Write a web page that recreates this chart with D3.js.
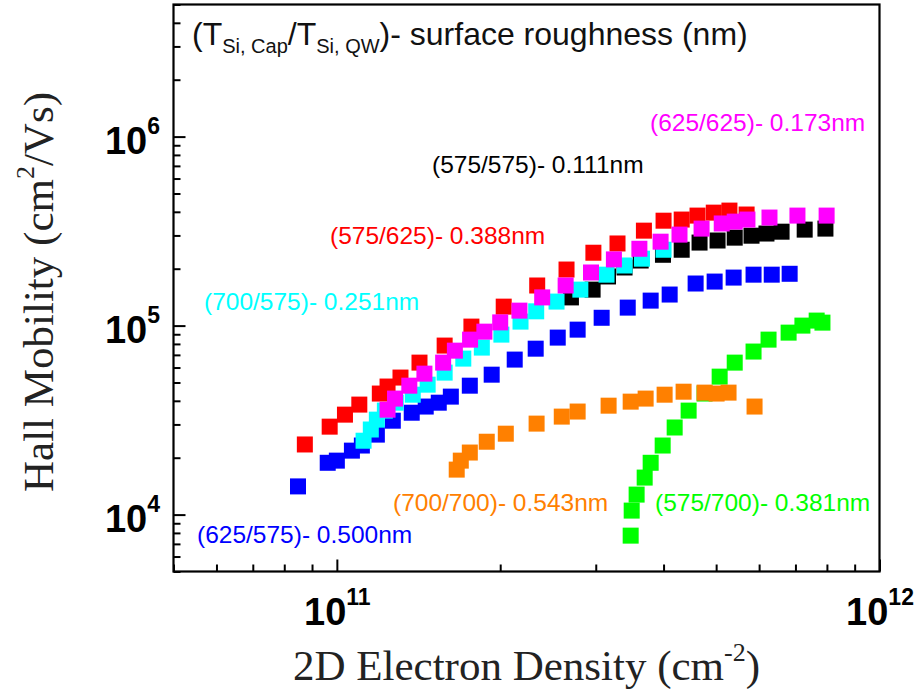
<!DOCTYPE html>
<html>
<head>
<meta charset="utf-8">
<script src="https://cdn.jsdelivr.net/npm/d3@7"></script>
<style>
  body { margin: 0; background: #fff; }
  svg { display: block; }
</style>
</head>
<body>
<svg id="chart" width="922" height="694"></svg>
<script>
// ---- data: 2D electron density (cm^-2) vs Hall mobility (cm^2/Vs) ----
const xTickValues = [1e11, 1e12];
const yTickValues = [1e4, 1e5, 1e6];

const densRed = [8.73e10, 9.7e10, 1.035e11, 1.10e11, 1.20e11, 1.24e11, 1.31e11, 1.42e11, 1.58e11, 1.77e11, 2.03e11, 2.34e11, 2.65e11, 2.97e11, 3.29e11, 3.68e11, 4.0e11, 4.32e11, 4.62e11, 4.95e11, 5.29e11, 5.69e11];
const muRed   = [2.35e4, 2.92e4, 3.38e4, 3.82e4, 4.37e4, 4.76e4, 5.31e4, 6.37e4, 7.84e4, 9.88e4, 1.26e5, 1.63e5, 1.98e5, 2.43e5, 2.72e5, 3.18e5, 3.59e5, 3.64e5, 3.82e5, 3.96e5, 4.06e5, 3.87e5];

const densMagenta = [1.24e11, 1.28e11, 1.36e11, 1.45e11, 1.57e11, 1.65e11, 1.76e11, 1.87e11, 2.00e11, 2.17e11, 2.39e11, 2.64e11, 2.94e11, 3.24e11, 3.61e11, 3.95e11, 4.28e11, 4.70e11, 5.12e11, 5.41e11, 5.71e11, 6.27e11, 7.06e11, 7.99e11];
const muMagenta   = [3.59e4, 4.11e4, 4.81e4, 5.57e4, 6.37e4, 7.37e4, 8.43e4, 9.29e4, 1.04e5, 1.20e5, 1.41e5, 1.63e5, 1.91e5, 2.24e5, 2.55e5, 2.78e5, 3.03e5, 3.26e5, 3.47e5, 3.55e5, 3.64e5, 3.73e5, 3.82e5, 3.82e5];

const densBlack = [2.70e11, 2.96e11, 3.16e11, 3.39e11, 3.63e11, 3.99e11, 4.32e11, 4.66e11, 5.03e11, 5.41e11, 5.81e11, 6.19e11, 6.60e11, 7.28e11, 7.95e11];
const muBlack   = [1.41e5, 1.55e5, 1.82e5, 2.03e5, 2.21e5, 2.37e5, 2.52e5, 2.75e5, 2.82e5, 2.92e5, 2.99e5, 3.07e5, 3.14e5, 3.22e5, 3.26e5];

const densCyan = [1.12e11, 1.155e11, 1.185e11, 1.226e11, 1.284e11, 1.38e11, 1.47e11, 1.58e11, 1.71e11, 1.85e11, 2.01e11, 2.18e11, 2.33e11, 2.54e11, 2.81e11, 3.14e11, 3.39e11, 3.65e11, 4.0e11];
const muCyan   = [2.46e4, 2.82e4, 3.18e4, 3.55e4, 3.91e4, 4.31e4, 4.87e4, 5.64e4, 6.69e4, 7.65e4, 8.96e4, 1.05e5, 1.19e5, 1.34e5, 1.55e5, 1.86e5, 2.08e5, 2.26e5, 2.52e5];

const densBlue = [8.48e10, 9.62e10, 1.0e11, 1.066e11, 1.112e11, 1.185e11, 1.268e11, 1.374e11, 1.458e11, 1.541e11, 1.622e11, 1.758e11, 1.929e11, 2.127e11, 2.325e11, 2.553e11, 2.778e11, 3.076e11, 3.436e11, 3.787e11, 4.105e11, 4.583e11, 4.968e11, 5.385e11, 5.86e11, 6.33e11, 6.83e11];
const muBlue   = [1.41e4, 1.88e4, 1.93e4, 2.18e4, 2.32e4, 2.65e4, 3.14e4, 3.46e4, 3.73e4, 3.91e4, 4.21e4, 4.81e4, 5.50e4, 6.61e4, 7.55e4, 8.64e4, 9.52e4, 1.10e5, 1.245e5, 1.356e5, 1.46e5, 1.67e5, 1.71e5, 1.795e5, 1.86e5, 1.86e5, 1.88e5];

const densOrange = [1.663e11, 1.692e11, 1.758e11, 1.889e11, 2.048e11, 2.334e11, 2.597e11, 2.778e11, 3.168e11, 3.479e11, 3.707e11, 4.018e11, 4.355e11, 4.76e11, 5.01e11, 5.27e11, 5.885e11];
const muOrange   = [1.73e4, 1.93e4, 2.13e4, 2.43e4, 2.68e4, 3.03e4, 3.30e4, 3.51e4, 3.77e4, 3.96e4, 4.11e4, 4.31e4, 4.47e4, 4.42e4, 4.37e4, 4.42e4, 3.73e4];

const densGreen = [3.479e11, 3.494e11, 3.568e11, 3.692e11, 3.787e11, 3.985e11, 4.193e11, 4.449e11, 4.76e11, 5.075e11, 5.41e11, 5.86e11, 6.245e11, 6.80e11, 7.21e11, 7.66e11, 7.85e11];
const muGreen   = [7.74e3, 1.05e4, 1.276e4, 1.57e4, 1.88e4, 2.32e4, 2.89e4, 3.55e4, 4.37e4, 5.37e4, 6.37e4, 7.29e4, 8.43e4, 9.18e4, 1.0e5, 1.063e5, 1.037e5];

// sample labels: (T_Si,Cap / T_Si,QW) - surface roughness
const labelBlack   = "(575/575)- 0.111nm";
const labelBlue    = "(625/575)- 0.500nm";
const labelGreen   = "(575/700)- 0.381nm";
const labelOrange  = "(700/700)- 0.543nm";
const labelRed     = "(575/625)- 0.388nm";
const labelCyan    = "(700/575)- 0.251nm";
const labelMagenta = "(625/625)- 0.173nm";

// drawing order: later series sit on top
const series = [
  { x: densBlack,   y: muBlack,   color: "#000000", label: labelBlack,   lx: 432, ly: 173 },
  { x: densBlue,    y: muBlue,    color: "#0000ff", label: labelBlue,    lx: 197, ly: 543 },
  { x: densGreen,   y: muGreen,   color: "#00ff00", label: labelGreen,   lx: 655, ly: 511 },
  { x: densOrange,  y: muOrange,  color: "#ff8000", label: labelOrange,  lx: 393, ly: 511 },
  { x: densRed,     y: muRed,     color: "#ff0000", label: labelRed,     lx: 330, ly: 244 },
  { x: densCyan,    y: muCyan,    color: "#00ffff", label: labelCyan,    lx: 204, ly: 310 },
  { x: densMagenta, y: muMagenta, color: "#ff00ff", label: labelMagenta, lx: 650, ly: 131 }
];

// ---- layout ----
const svg = d3.select("#chart");
const plotLeft = 173.5, plotRight = 879.5, plotTop = 4.5, plotBottom = 571.5;
const sansFont = "'Liberation Sans', Arial, sans-serif";
const serifFont = "'Liberation Serif', 'Times New Roman', serif";
const markerSize = 16;

const x = d3.scaleLog().domain([5e10, 1e12]).range([plotLeft, plotRight]);
const y = d3.scaleLog().domain([5e3, 5e6]).range([plotBottom, plotTop]);

// markers
const plot = svg.append("g");
series.forEach(s => {
  const pts = s.x.map((v, i) => [v, s.y[i]]);
  plot.append("g").selectAll("rect").data(pts).join("rect")
    .attr("x", d => x(d[0]) - markerSize / 2)
    .attr("y", d => y(d[1]) - markerSize / 2)
    .attr("width", markerSize)
    .attr("height", markerSize)
    .attr("fill", s.color);
});

// axes (ticks point inward)
const minorX = x.ticks().filter(v => !xTickValues.includes(v));
const minorY = y.ticks().filter(v => !yTickValues.includes(v));

function styleAxis(g) {
  g.select(".domain").remove();
  g.selectAll(".tick line").attr("stroke", "#000").attr("stroke-width", 2);
}

svg.append("g").attr("transform", `translate(0,${plotBottom})`)
  .call(d3.axisBottom(x).tickValues(minorX).tickSize(-7).tickFormat(""))
  .call(styleAxis);
svg.append("g").attr("transform", `translate(${plotLeft},0)`)
  .call(d3.axisLeft(y).tickValues(minorY).tickSize(-7).tickFormat(""))
  .call(styleAxis);

const xMajor = svg.append("g").attr("transform", `translate(0,${plotBottom})`)
  .call(d3.axisBottom(x).tickValues(xTickValues).tickSize(-12))
  .call(styleAxis);
xMajor.selectAll(".tick text")
  .attr("y", 53.5).attr("dy", null)
  .attr("font-family", sansFont).attr("font-size", 38).attr("font-weight", "bold")
  .attr("fill", "#000").attr("text-anchor", "middle")
  .each(function (d) {
    const t = d3.select(this).text("");
    t.append("tspan").text("10");
    t.append("tspan").attr("font-size", 23).attr("dy", -20).text(Math.round(Math.log10(d)));
  });

const yMajor = svg.append("g").attr("transform", `translate(${plotLeft},0)`)
  .call(d3.axisLeft(y).tickValues(yTickValues).tickSize(-12).tickPadding(13.5))
  .call(styleAxis);
yMajor.selectAll(".tick text")
  .attr("dy", 16.5)
  .attr("font-family", sansFont).attr("font-size", 38).attr("font-weight", "bold")
  .attr("fill", "#000").attr("text-anchor", "end")
  .each(function (d) {
    const t = d3.select(this).text("");
    t.append("tspan").text("10");
    t.append("tspan").attr("font-size", 23).attr("dy", -20).text(Math.round(Math.log10(d)));
  });

// frame
svg.append("rect")
  .attr("x", plotLeft).attr("y", plotTop)
  .attr("width", plotRight - plotLeft).attr("height", plotBottom - plotTop)
  .attr("fill", "none").attr("stroke", "#000").attr("stroke-width", 2.2);

// axis titles
const xTitle = svg.append("text")
  .attr("x", (plotLeft + plotRight) / 2).attr("y", 680)
  .attr("text-anchor", "middle")
  .attr("font-family", serifFont).attr("font-size", 43).attr("fill", "#222");
xTitle.append("tspan").text("2D Electron Density (cm");
xTitle.append("tspan").attr("font-size", 26).attr("dy", -19).text("-2");
xTitle.append("tspan").attr("dy", 19).text(")");

const yTitle = svg.append("text")
  .attr("transform", `translate(53,${(plotTop + plotBottom) / 2 + 4}) rotate(-90)`)
  .attr("text-anchor", "middle")
  .attr("font-family", serifFont).attr("font-size", 43).attr("fill", "#222");
yTitle.append("tspan").text("Hall Mobility (cm");
yTitle.append("tspan").attr("font-size", 26).attr("dy", -19).text("2");
yTitle.append("tspan").attr("dy", 19).text("/Vs)");

// header note
const note = svg.append("text")
  .attr("x", 192).attr("y", 45)
  .attr("font-family", sansFont).attr("font-size", 32).attr("fill", "#111");
note.append("tspan").text("(T");
note.append("tspan").attr("font-size", 20).attr("dy", 8).text("Si, Cap");
note.append("tspan").attr("dy", -8).text("/T");
note.append("tspan").attr("font-size", 20).attr("dy", 8).text("Si, QW");
note.append("tspan").attr("dy", -8).text(")- surface roughness (nm)");

// sample labels
svg.append("g").selectAll("text").data(series).join("text")
  .attr("x", d => d.lx).attr("y", d => d.ly)
  .attr("font-family", sansFont).attr("font-size", 24.5)
  .attr("fill", d => d.color)
  .text(d => d.label);
</script>
</body>
</html>
